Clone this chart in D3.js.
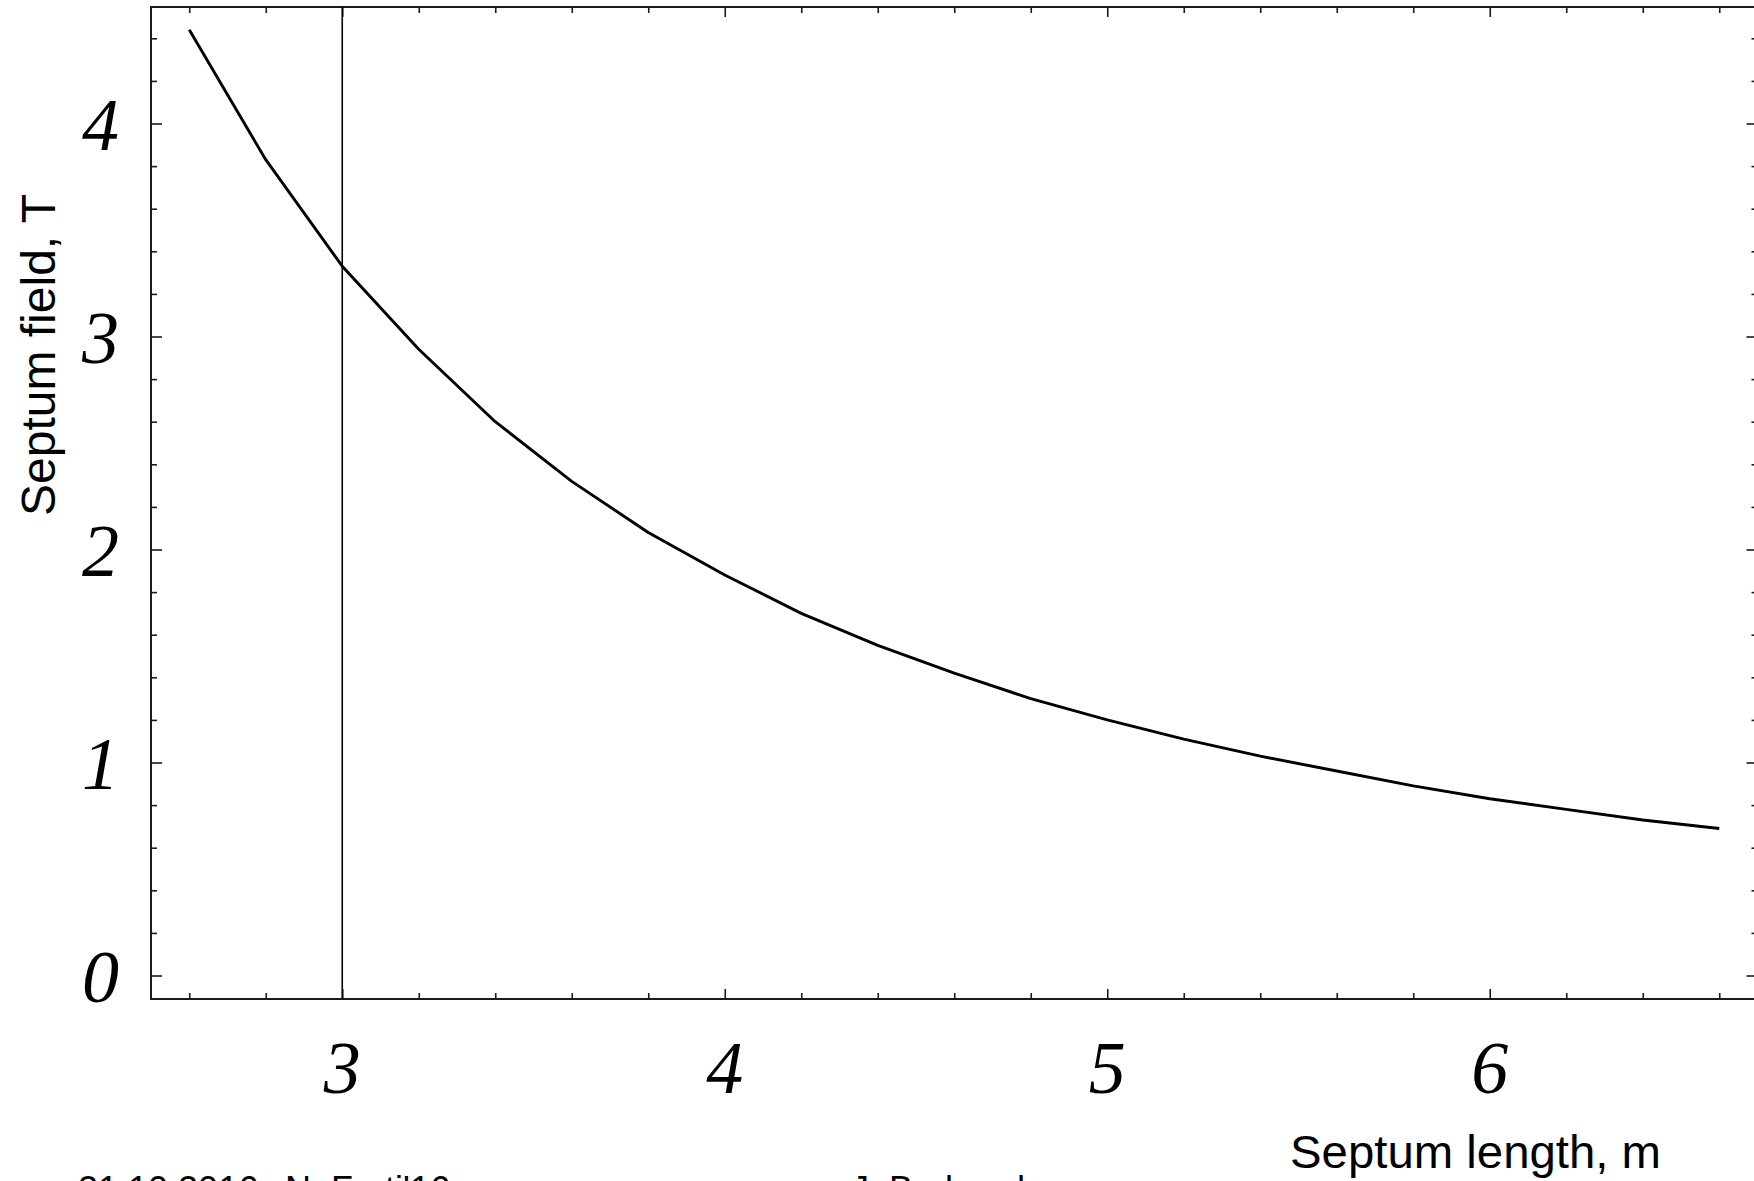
<!DOCTYPE html>
<html>
<head>
<meta charset="utf-8">
<script src="https://cdn.jsdelivr.net/npm/d3@7"></script>
<style>
  html, body { margin: 0; padding: 0; background: #fff; }
  svg { display: block; }
</style>
</head>
<body>
<svg id="chart" width="1754" height="1181"></svg>
<script>
// ---- data ----
const septumLength = [2.6, 2.8, 3.0, 3.2, 3.4, 3.6, 3.8, 4.0, 4.2, 4.4, 4.6, 4.8, 5.0, 5.2, 5.4, 5.6, 5.8, 6.0, 6.2, 6.4, 6.6];
const septumField  = [4.44, 3.83, 3.33, 2.94, 2.60, 2.32, 2.08, 1.88, 1.70, 1.55, 1.42, 1.30, 1.20, 1.11, 1.03, 0.96, 0.89, 0.83, 0.78, 0.73, 0.69];
const markerLength = [3];
const xMajorTicks = [3, 4, 5, 6];
const xTickLabels = ["3", "4", "5", "6"];
const xMinorTicks = [2.6, 2.8, 3.2, 3.4, 3.6, 3.8, 4.2, 4.4, 4.6, 4.8, 5.2, 5.4, 5.6, 5.8, 6.2, 6.4, 6.6];
const yMajorTicks = [0, 1, 2, 3, 4];
const yTickLabels = ["0", "1", "2", "3", "4"];
const yMinorTicks = [0.2, 0.4, 0.6, 0.8, 1.2, 1.4, 1.6, 1.8, 2.2, 2.4, 2.6, 2.8, 3.2, 3.4, 3.6, 3.8, 4.2, 4.4];
const xTitle = "Septum length, m";
const yTitle = "Septum field, T";
const footerLeft = ["21.10.2016", "N. Forti'16"];
const footerRight = "J. Borburgh";

// ---- layout ----
const pL = 151, pR = 1757.5, pT = 7, pB = 999;
const svg = d3.select("#chart");
svg.append("rect").attr("width", 1754).attr("height", 1181).attr("fill", "#fff");

const x = d3.scaleLinear().domain([2.5, 6.7]).range([pL, pR]);
const y = d3.scaleLinear().domain([-0.1103, 4.547]).range([pB, pT]);

const axisColor = "#1a1a1a";
function styleAxis(g) {
  g.select(".domain").remove();
  g.selectAll(".tick line").attr("stroke", axisColor).attr("stroke-width", 1.6);
  g.selectAll(".tick text").remove();
}

// bottom
svg.append("g").attr("transform", `translate(0,${pB})`)
  .call(d3.axisBottom(x).tickValues(xMinorTicks).tickSize(-6)).call(styleAxis);
svg.append("g").attr("transform", `translate(0,${pB})`)
  .call(d3.axisBottom(x).tickValues(xMajorTicks).tickSize(-10)).call(styleAxis);
// top
svg.append("g").attr("transform", `translate(0,${pT})`)
  .call(d3.axisTop(x).tickValues(xMinorTicks).tickSize(-6)).call(styleAxis);
svg.append("g").attr("transform", `translate(0,${pT})`)
  .call(d3.axisTop(x).tickValues(xMajorTicks).tickSize(-10)).call(styleAxis);
// left
svg.append("g").attr("transform", `translate(${pL},0)`)
  .call(d3.axisLeft(y).tickValues(yMinorTicks).tickSize(-6)).call(styleAxis);
svg.append("g").attr("transform", `translate(${pL},0)`)
  .call(d3.axisLeft(y).tickValues(yMajorTicks).tickSize(-11)).call(styleAxis);
// right
svg.append("g").attr("transform", `translate(${pR},0)`)
  .call(d3.axisRight(y).tickValues(yMinorTicks).tickSize(-6)).call(styleAxis);
svg.append("g").attr("transform", `translate(${pR},0)`)
  .call(d3.axisRight(y).tickValues(yMajorTicks).tickSize(-11)).call(styleAxis);

// frame
svg.append("rect")
  .attr("x", pL).attr("y", pT)
  .attr("width", pR - pL).attr("height", pB - pT)
  .attr("fill", "none").attr("stroke", axisColor).attr("stroke-width", 2);

// tick labels
const serif = "'Liberation Serif', 'Times New Roman', serif";
svg.append("g").selectAll("text").data(xMajorTicks).join("text")
  .attr("x", d => x(d)).attr("y", 1093)
  .attr("text-anchor", "middle")
  .attr("font-family", serif).attr("font-style", "italic").attr("font-size", 74)
  .attr("fill", "#000")
  .text((d, i) => xTickLabels[i]);
svg.append("g").selectAll("text").data(yMajorTicks).join("text")
  .attr("x", 119).attr("y", d => y(d) + 26)
  .attr("text-anchor", "end")
  .attr("font-family", serif).attr("font-style", "italic").attr("font-size", 74)
  .attr("fill", "#000")
  .text((d, i) => yTickLabels[i]);

// marker line
svg.append("g").selectAll("line").data(markerLength).join("line")
  .attr("x1", d => x(d)).attr("x2", d => x(d))
  .attr("y1", pT).attr("y2", pB)
  .attr("stroke", "#000").attr("stroke-width", 1.6);

// curve
const pts = septumLength.map((d, i) => [d, septumField[i]]);
svg.append("path").datum(pts)
  .attr("d", d3.line().x(d => x(d[0])).y(d => y(d[1])))
  .attr("fill", "none").attr("stroke", "#000").attr("stroke-width", 2.9)
  .attr("stroke-linejoin", "round");

// titles
const sans = "'Liberation Sans', Arial, sans-serif";
svg.append("text")
  .attr("x", 1290).attr("y", 1168)
  .attr("font-family", sans).attr("font-size", 47).attr("fill", "#000")
  .attr("textLength", 371).attr("lengthAdjust", "spacingAndGlyphs")
  .text(xTitle);
svg.append("text")
  .attr("transform", "translate(55,355) rotate(-90)")
  .attr("text-anchor", "middle")
  .attr("font-family", sans).attr("font-size", 48).attr("fill", "#000")
  .text(yTitle);

// footer (cut off at bottom edge, as in the original)
svg.append("text").attr("x", 78).attr("y", 1202)
  .attr("font-family", sans).attr("font-size", 36).attr("fill", "#000")
  .text(footerLeft[0]);
svg.append("text").attr("x", 285).attr("y", 1202)
  .attr("font-family", sans).attr("font-size", 36).attr("fill", "#000")
  .text(footerLeft[1]);
svg.append("text").attr("x", 851).attr("y", 1202)
  .attr("font-family", sans).attr("font-size", 36).attr("fill", "#000")
  .text(footerRight);
</script>
</body>
</html>
